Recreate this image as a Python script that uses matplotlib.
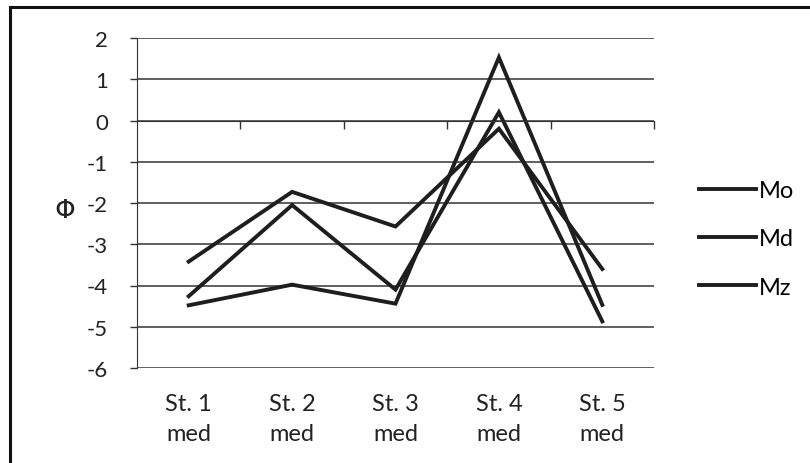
import matplotlib
matplotlib.use("Agg")
import matplotlib.pyplot as plt
from matplotlib.lines import Line2D

plt.rcParams['font.family'] = ['Lato', 'DejaVu Sans']
plt.rcParams['axes.unicode_minus'] = False

categories = ["St. 1\nmed", "St. 2\nmed", "St. 3\nmed", "St. 4\nmed", "St. 5\nmed"]
mo = [-4.48, -3.98, -4.44, 1.53, -4.47]
md = [-4.26, -2.05, -4.10, 0.20, -4.87]
mz = [-3.42, -1.73, -2.57, -0.20, -3.60]
series_names = ["Mo", "Md", "Mz"]
y_ticks = [2, 1, 0, -1, -2, -3, -4, -5, -6]

W, H = 810, 464
fig = plt.figure(figsize=(W / 100, H / 100), dpi=100)
fig.patch.set_facecolor("white")

ax = fig.add_axes([137 / W, 1 - 369 / H, 517 / W, 330 / H])
x = list(range(1, len(categories) + 1))

lines = []
for vals, name in zip([mo, md, mz], series_names):
    ln, = ax.plot(x, vals, color="#1e1e1e", lw=2.8, label=name, solid_joinstyle="miter")
    lines.append(ln)

ax.set_xlim(0.5, len(categories) + 0.5)
ax.set_ylim(-6, 2)
ax.set_yticks(y_ticks)
ax.set_yticklabels([str(v) for v in y_ticks], fontsize=16, color="#222")
ax.tick_params(axis="y", length=5, width=1, pad=16, color="#333")
ax.yaxis.grid(True, color="#444", lw=1.2)
ax.set_axisbelow(True)

# x axis crosses at 0 with ticks at category boundaries
ax.spines["bottom"].set_position(("data", 0))
ax.spines["bottom"].set_color("#333")
ax.spines["left"].set_color("#333")
ax.spines["top"].set_visible(False)
ax.spines["right"].set_visible(False)
ax.set_xticks([i + 0.5 for i in range(1, len(categories) + 1)])
ax.set_xticklabels([])
ax.tick_params(axis="x", length=6, width=1, direction="out", color="#333")

for xi, lab in zip(x, categories):
    ax.text(xi, -0.075, lab, transform=ax.get_xaxis_transform(), ha="center",
            va="top", fontsize=17, color="#222", linespacing=1.55)

ax.set_ylabel("Φ", rotation=0, fontsize=16, fontweight="bold", color="#222", va="center")
ax.yaxis.set_label_coords(-0.14, 0.48)

leg = fig.legend(handles=lines, labels=series_names, loc="center left",
                 bbox_to_anchor=(690 / W, 1 - 240 / H), frameon=False,
                 fontsize=17, handlelength=2.4, handletextpad=0.1,
                 labelspacing=1.15, borderaxespad=0)

# scanned figure frame (left and top edges)
fig.add_artist(Line2D([10 / W, 10 / W], [0, 1 - 8 / H], transform=fig.transFigure,
                      color="#111", lw=2.2))
fig.add_artist(Line2D([10 / W, 1], [1 - 8 / H, 1 - 8 / H], transform=fig.transFigure,
                      color="#111", lw=2.2))

fig.savefig("out.png", dpi=100)
